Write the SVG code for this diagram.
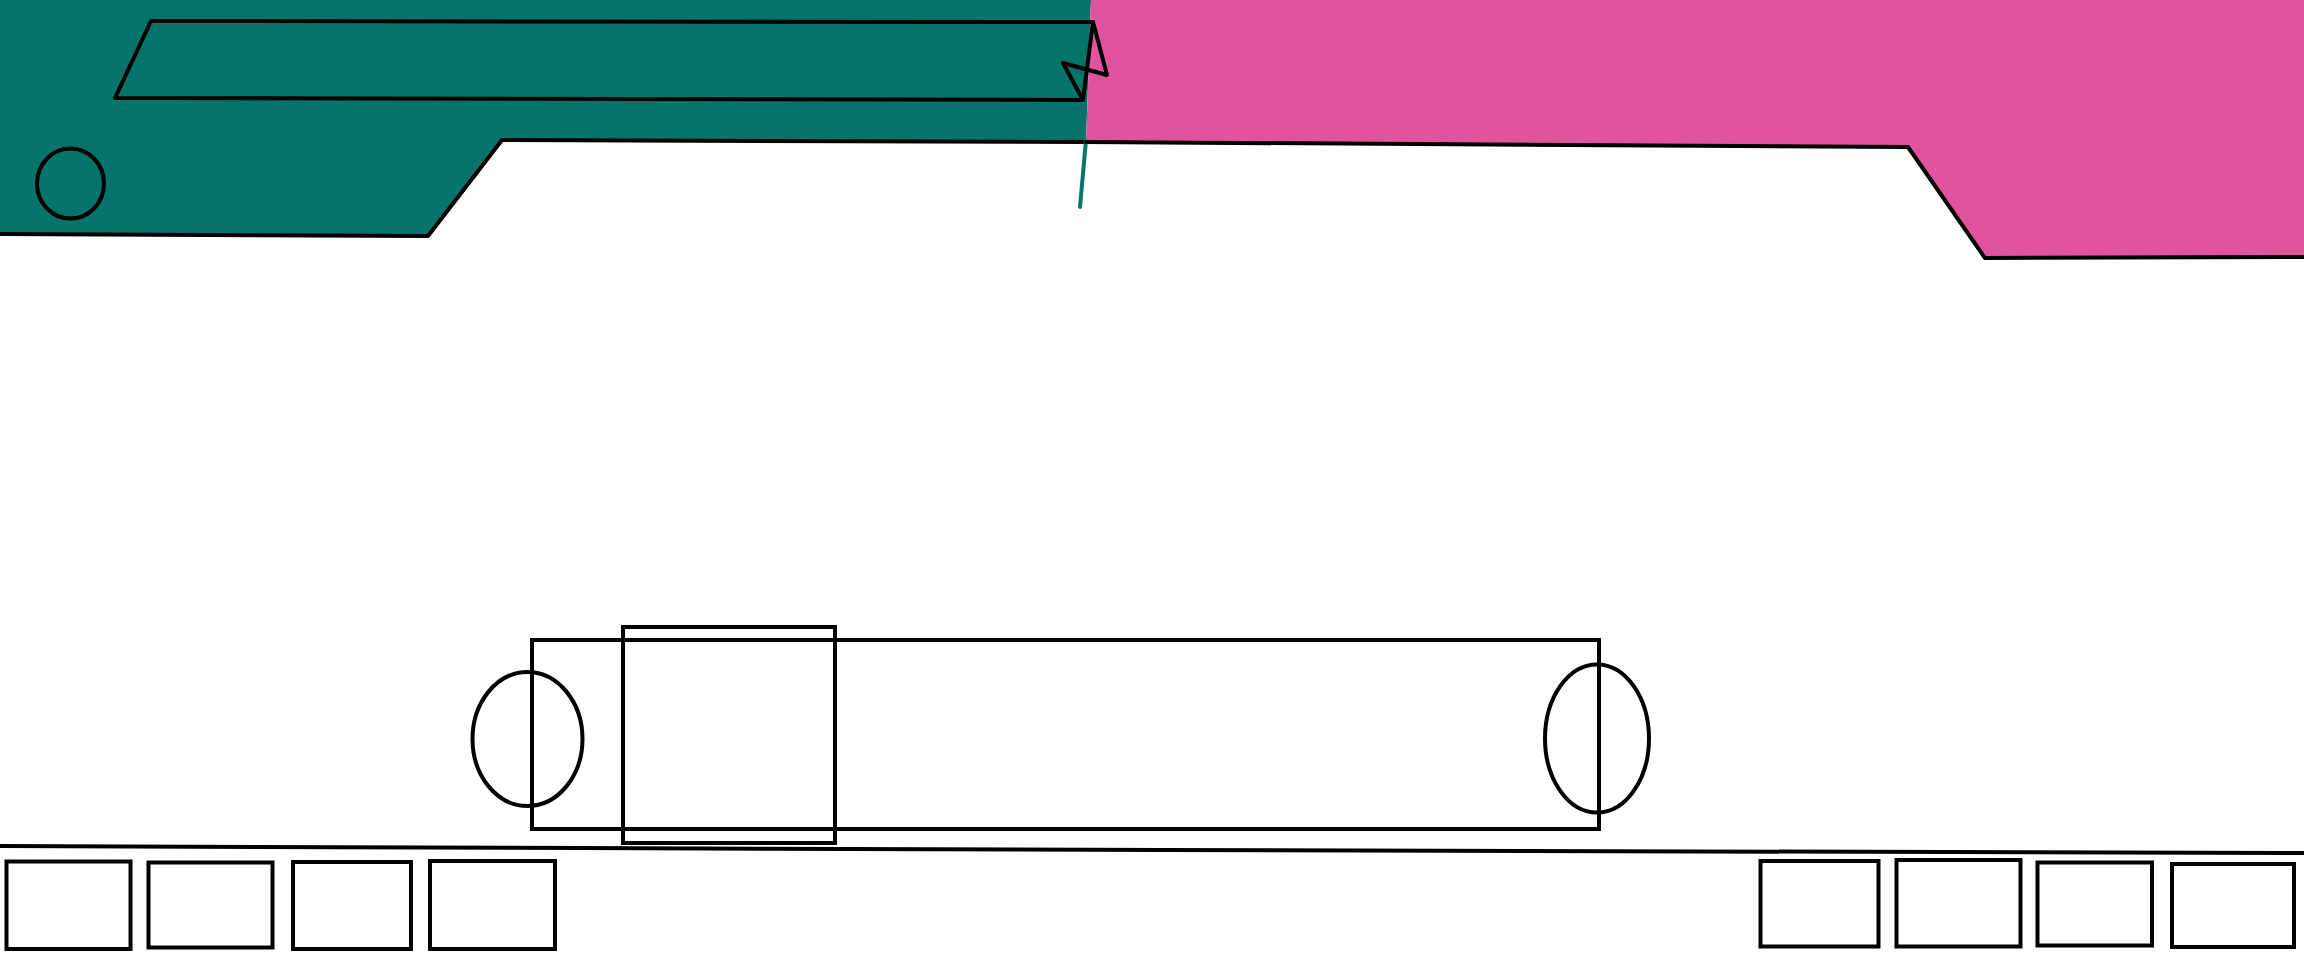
<svg xmlns="http://www.w3.org/2000/svg" width="2304" height="960" viewBox="0 0 2304 960">
  <style>
    .ln { fill: none; stroke: #000; stroke-width: 4; stroke-linejoin: round; stroke-linecap: round; }
    .box { fill: none; stroke: #000; stroke-width: 4; }
    .teal { fill: #077469; }
    .pink { fill: #E0539E; }
  </style>
  <rect width="2304" height="960" fill="#fff"/>
  <g id="teal-area">
    <polygon class="teal" points="0,0 1091,0 1086,142 502,140 428,236 0,234"/>
    <polyline class="ln" points="0,234 428,236 502,140 1086,142"/>
    <line x1="1086" y1="140" x2="1080" y2="207" stroke="#077469" stroke-width="4" stroke-linecap="round"/>
  </g>
  <g id="pink-area">
    <polygon class="pink" points="1091,0 2304,0 2304,257 1985,258 1908,147 1086,142"/>
    <polyline class="ln" points="1086,142 1908,147 1985,258 2304,257"/>
  </g>
  <g id="bar">
    <polyline class="ln" points="1083,100 115,98 151,21 1093,22"/>
    <polyline class="ln" points="1083,100 1093,22 1107,75 1063,63 1083,100"/>
  </g>
  <g id="small-circle">
    <ellipse class="ln" cx="70.5" cy="183.5" rx="33.5" ry="35"/>
  </g>
  <g id="body">
    <rect class="box" x="532" y="640" width="1067" height="189"/>
  </g>
  <g id="window">
    <rect class="box" x="623" y="627" width="212" height="216"/>
  </g>
  <g id="wheel-left">
    <ellipse class="ln" cx="527.5" cy="739" rx="55" ry="67"/>
  </g>
  <g id="wheel-right">
    <ellipse class="ln" cx="1597" cy="738.5" rx="52" ry="74"/>
  </g>
  <g id="ground">
    <polyline class="ln" points="0,846 580,848 1160,850 2304,853"/>
  </g>
  <g id="blocks-left">
    <rect class="box" x="6.5" y="861.5" width="124" height="87.5"/>
    <rect class="box" x="148.5" y="862.5" width="124" height="85"/>
    <rect class="box" x="293" y="862" width="118" height="87"/>
    <rect class="box" x="430" y="861" width="125" height="88"/>
  </g>
  <g id="blocks-right">
    <rect class="box" x="1760.5" y="861" width="118" height="85.5"/>
    <rect class="box" x="1896.5" y="860" width="124" height="86.5"/>
    <rect class="box" x="2037.5" y="862.5" width="114.5" height="83"/>
    <rect class="box" x="2172" y="864" width="122" height="83"/>
  </g>
</svg>
